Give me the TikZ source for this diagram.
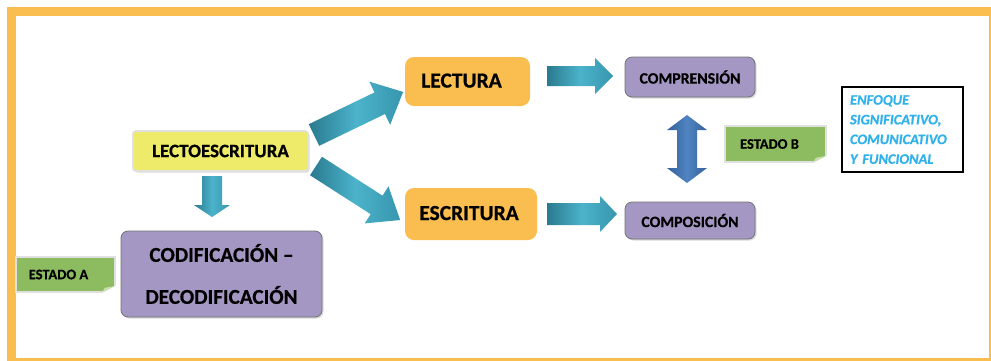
\documentclass[tikz,border=0pt]{standalone}
\usepackage{fontspec}
\setmainfont{Carlito}[BoldFeatures={FakeBold=0.6},BoldItalicFeatures={FakeBold=0.6}]
\usetikzlibrary{shadows,calc}
\definecolor{frameor}{HTML}{F9BE4F}
\definecolor{yel}{HTML}{EFEB6A}
\definecolor{purp}{HTML}{A597C3}
\definecolor{grn}{HTML}{8DBB5F}
\definecolor{grnl}{HTML}{C9DDB2}
\definecolor{tealD}{HTML}{2A7A8E}
\definecolor{tealL}{HTML}{4BB3CB}
\definecolor{tealM}{HTML}{3796AD}
\definecolor{bluD}{HTML}{36619A}
\definecolor{bluL}{HTML}{4F84C2}
\definecolor{cyanT}{HTML}{2FB2EC}
\newcommand{\blkarrow}[7]{%
  \begin{scope}[shift={#2},rotate=#3]
    \path[#1] (0,-#4) -- ({#5-#7},-#4) -- ({#5-#7},-#6) -- (#5,0) -- ({#5-#7},#6) -- ({#5-#7},#4) -- (0,#4) -- cycle;
  \end{scope}}
\tikzset{
  shadowed/.style={drop shadow={opacity=0.3, shadow xshift=1.5pt, shadow yshift=-1.5pt}},
  orbox/.style={rounded corners=9pt, fill=frameor, inner sep=0pt, font=\bfseries\fontsize{21.5}{23}\selectfont},
  purbox/.style={rounded corners=7pt, fill=purp, draw=black!55, line width=0.8pt, inner sep=0pt, shadowed},
  yelbox/.style={rounded corners=3pt, fill=yel, draw=black!12, line width=1.8pt, inner sep=0pt, shadowed, font=\bfseries\fontsize{19}{21}\selectfont},
  notebox/.style={fill=grn, draw=black!12, line width=1.6pt, inner sep=0pt, font=\bfseries\fontsize{14.5}{16}\selectfont},
  enfbox/.style={draw=black, line width=2.4pt, inner sep=0pt, text=cyanT, align=left, font=\bfseries\itshape\fontsize{14.5}{19.7}\selectfont},
  tealarrow/.style={left color=tealD, right color=tealM, middle color=tealL, draw=none},
  bluarrow/.style={left color=bluD, right color=bluD, middle color=bluL, draw=none},
}
\begin{document}
\begin{tikzpicture}[x=1pt,y=-1pt]
  \clip (0,0) rectangle (991,360);
  \fill[white] (0,0) rectangle (991,360);
  \draw[frameor, line width=9pt] (11,11.5) rectangle (993.5,362);

  % nodes
  \node[yelbox, minimum width=175pt, minimum height=40pt] (lecto) at (220.5,151) {LECTOESCRITURA};
  \node[purbox, minimum width=201pt, minimum height=86pt, align=center, font=\bfseries\fontsize{21.2}{42}\selectfont] (codif) at (221.5,274) {CODIFICACIÓN –\\DECODIFICACIÓN};
  \node[orbox, minimum width=125pt, minimum height=49pt] (lectura) at (467.5,81.5) {\raisebox{2pt}{LECTURA\hspace{12pt}}};
  \node[orbox, minimum width=132pt, minimum height=52pt] (escritura) at (471,214) {\raisebox{2pt}{ESCRITURA\hspace{4pt}}};
  \node[purbox, minimum width=130pt, minimum height=40pt, font=\bfseries\fontsize{15.8}{17}\selectfont] (compr) at (690,77) {COMPRENSIÓN};
  \node[purbox, minimum width=130pt, minimum height=37pt, font=\bfseries\fontsize{15.8}{17}\selectfont] (compo) at (690,220.5) {COMPOSICIÓN};
  \node[notebox, minimum width=99pt, minimum height=35pt] (estA) at (65.5,274.5) {\hspace{-14pt}ESTADO A};
  \node[notebox, minimum width=101pt, minimum height=36pt] (estB) at (775.5,144) {\hspace{-12pt}ESTADO B};
  \node[enfbox, minimum width=121pt, minimum height=85pt, text width=105pt, inner xsep=8pt] (enf) at (902.5,129.5) {ENFOQUE\\SIGNIFICATIVO,\\COMUNICATIVO\\Y FUNCIONAL};

  % folded corners of the notes
  \foreach \n in {estA,estB}{
    \fill[white] ([xshift=-14pt]\n.south east) -- ([xshift=1pt,yshift=-1pt]\n.south east) -- ([xshift=1pt,yshift=8pt]\n.south east) -- cycle;
    \fill[grnl] ([xshift=-14pt]\n.south east) -- ([yshift=7pt]\n.south east) -- ([xshift=-11pt,yshift=5pt]\n.south east) -- cycle;
  }

  % block arrows
  \coordinate (a1) at (314,135);
  \coordinate (a2) at (316,166);
  \coordinate (a3) at (547,76);
  \coordinate (a4) at (547,214);
  \blkarrow{tealarrow}{(a1)}{25.8}{12}{99}{24}{26}
  \blkarrow{tealarrow}{(a2)}{-32.7}{11}{100}{22}{28}
  \blkarrow{tealarrow}{(a3)}{0}{10}{66}{18}{18}
  \blkarrow{tealarrow}{(a4)}{0}{11}{70}{18}{17}
  \blkarrow{tealarrow}{(212,176)}{-90}{10}{41}{18}{12}

  % double arrow
  \path[bluarrow] (687,115) -- (707,130) -- (697,130) -- (697,168) -- (707,168) -- (687,183)
     -- (667,168) -- (677,168) -- (677,130) -- (667,130) -- cycle;
\end{tikzpicture}
\end{document}
